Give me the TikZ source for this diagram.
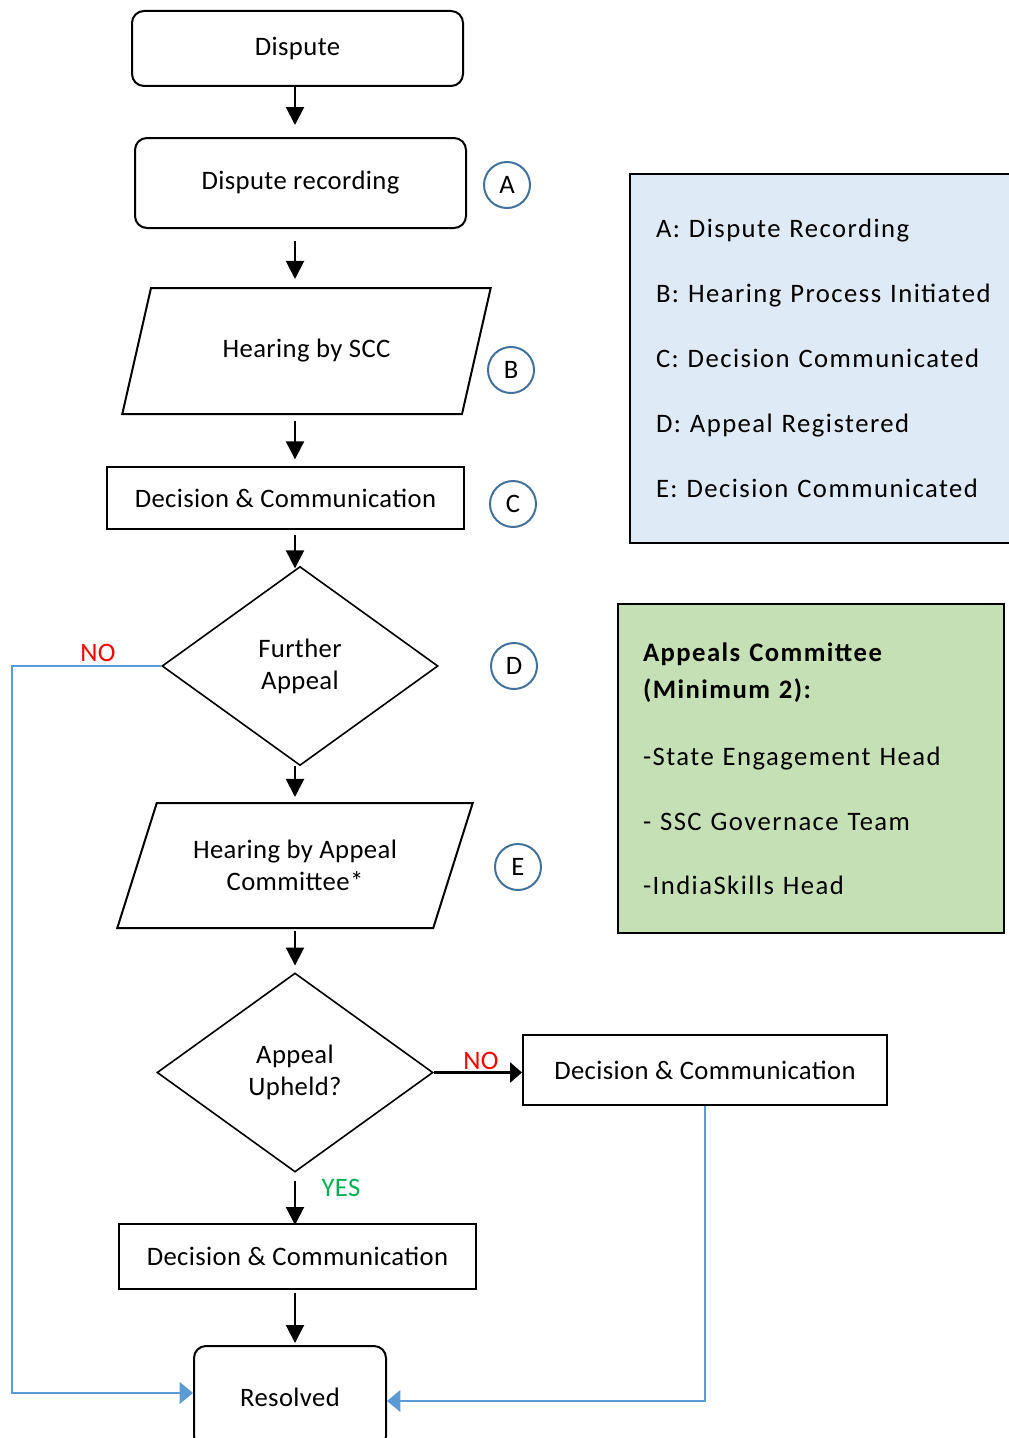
\documentclass[tikz,border=0pt]{standalone}
\usepackage{fontspec}
\setmainfont{Carlito}
\usetikzlibrary{shapes.geometric,arrows.meta}

\definecolor{markerblue}{RGB}{65,113,156}
\definecolor{flowblue}{RGB}{91,155,213}
\definecolor{legendfill}{RGB}{222,234,246}
\definecolor{committeefill}{RGB}{197,224,180}
\definecolor{nored}{RGB}{255,0,0}
\definecolor{yesgreen}{RGB}{0,176,80}

\tikzset{every picture/.style={line width=0.75pt},
  flowtext/.style={font=\fontsize{20}{24}\selectfont\addfontfeature{LetterSpace=1.5}},
  roundbox/.style={draw, line width=1.5pt, rounded corners=9pt, align=center, flowtext},
  plainbox/.style={draw, line width=1.5pt, align=center, flowtext},
  slantbox/.style={draw, line width=1.5pt, trapezium, trapezium left angle=63, trapezium right angle=117, trapezium stretches=true, align=center, flowtext},
  decision/.style={draw, line width=1.2pt, diamond, inner sep=0pt, align=center, flowtext},
  marker/.style={circle, draw=markerblue, line width=1.5pt, minimum size=34.5pt, inner sep=0pt, flowtext},
  flowarrow/.style={line width=1.5pt, -{Triangle[length=13.5pt,width=13.5pt]}},
  backarrow/.style={draw=flowblue, line width=2.2pt, -{Triangle[length=10pt,width=16pt]}},
  infobox/.style={draw, line width=1.5pt, align=left}
}

\begin{document}
\begin{tikzpicture}[x=0.75pt,y=0.75pt,yscale=-1,xscale=1]
\useasboundingbox (0,0) rectangle (1009,1438);
\clip (0,0) rectangle (1009,1438);

%Shape: Rounded Rect
\node [roundbox, minimum width=248.25pt, minimum height=56.25pt] (dispute) at (297.5,48.5) {Dispute};
%Shape: Rounded Rect
\node [roundbox, minimum width=248.25pt, minimum height=67.5pt] (record) at (300.5,183) {Dispute recording};
%Shape: Parallelogram
\node [slantbox, minimum width=276.75pt, minimum height=94.5pt] (scc) at (306.5,351) {Hearing by SCC};
%Shape: Rectangle
\node [plainbox, minimum width=267.75pt, minimum height=46.5pt] (decisionC) at (285.5,498) {Decision \& Communication};
%Shape: Diamond
\node [decision, minimum width=207pt, minimum height=149.25pt] (further) at (300,666) {Further\\Appeal};
%Shape: Parallelogram
\node [slantbox, minimum width=267pt, minimum height=93.75pt] (appealhearing) at (295,865.5) {Hearing by Appeal\\Committee*};
%Shape: Diamond
\node [decision, minimum width=207pt, minimum height=149.25pt] (upheld) at (295,1072.5) {Appeal\\Upheld?};
%Shape: Rectangle
\node [plainbox, minimum width=273pt, minimum height=52.5pt] (nobox) at (705,1070) {Decision \& Communication};
%Shape: Rectangle
\node [plainbox, minimum width=267.75pt, minimum height=48.75pt] (yesbox) at (297.5,1256.5) {Decision \& Communication};
%Shape: Rounded Rect
\node [roundbox, minimum width=144pt, minimum height=76.5pt] (resolved) at (290,1397) {Resolved};

%Shape: Circle
\node [marker] (markA) at (507,185) {A};
\node [marker] (markB) at (511,370) {B};
\node [marker] (markC) at (513,504) {C};
\node [marker] (markD) at (514,666) {D};
\node [marker] (markE) at (518,867) {E};

%Shape: Rectangle
\node [infobox, fill=legendfill, text width=270pt, inner xsep=19.5pt, minimum height=276.75pt, font=\fontsize{20}{48.75}\selectfont\addfontfeature{LetterSpace=5.5}] (legend) at (836,358.5) {A: Dispute Recording\\B: Hearing Process Initiated\\C: Decision Communicated\\D: Appeal Registered\\E: Decision Communicated};
%Shape: Rectangle
\node [infobox, fill=committeefill, text width=252pt, inner xsep=18.75pt, minimum height=246.75pt, font=\fontsize{20}{27.75}\selectfont\addfontfeature{LetterSpace=5.5}] (committee) at (811,768.5) {\textbf{Appeals Committee}\\\textbf{(Minimum 2):}\\[23pt]-State Engagement Head\\[21pt]- SSC Governace Team\\[20pt]-IndiaSkills Head};

%Straight Lines
\coordinate (axis) at (295,0);
\draw [flowarrow, shorten >=9pt] (dispute.south -| axis) -- (record.north -| axis);
\draw [flowarrow, shorten <=9pt, shorten >=6pt] (record.south -| axis) -- (scc.north -| axis);
\draw [flowarrow, shorten <=4.5pt, shorten >=5pt] (scc.south -| axis) -- (decisionC.north -| axis);
\draw [flowarrow, shorten <=3.75pt, shorten >=-2pt] (decisionC.south -| axis) -- (further.north -| axis);
\draw [flowarrow, shorten >=3.75pt] (further.south -| axis) -- (appealhearing.north -| axis);
\draw [flowarrow, shorten <=1.5pt, shorten >=5pt] (appealhearing.south -| axis) -- (upheld.north -| axis);
\draw [flowarrow, shorten <=6pt, shorten >=-1.5pt] (upheld.south -| axis) -- (yesbox.north -| axis);
\draw [flowarrow, shorten <=2pt, shorten >=1.5pt] (yesbox.south -| axis) -- (resolved.north -| axis);
\draw [line width=2.25pt, -{Triangle[length=9pt,width=15pt]}] (upheld.east) -- (nobox.west |- upheld.east);

%Straight Lines
\coordinate (leftturn) at (12,666);
\coordinate (leftbottom) at (12,1393);
\draw [backarrow] (further.west) -- (leftturn) -- (leftbottom) -- (resolved.west |- leftbottom);
\coordinate (rightbottom) at (705,1401);
\draw [backarrow] (nobox.south) -- (rightbottom) -- (resolved.east |- rightbottom);

% Text Node
\node [flowtext, text=nored] (nofurther) at (98,653) {NO};
% Text Node
\node [flowtext, text=nored] (noupheld) at (481,1061) {NO};
% Text Node
\node [flowtext, text=yesgreen] (yesupheld) at (341,1188) {YES};

\end{tikzpicture}
\end{document}
